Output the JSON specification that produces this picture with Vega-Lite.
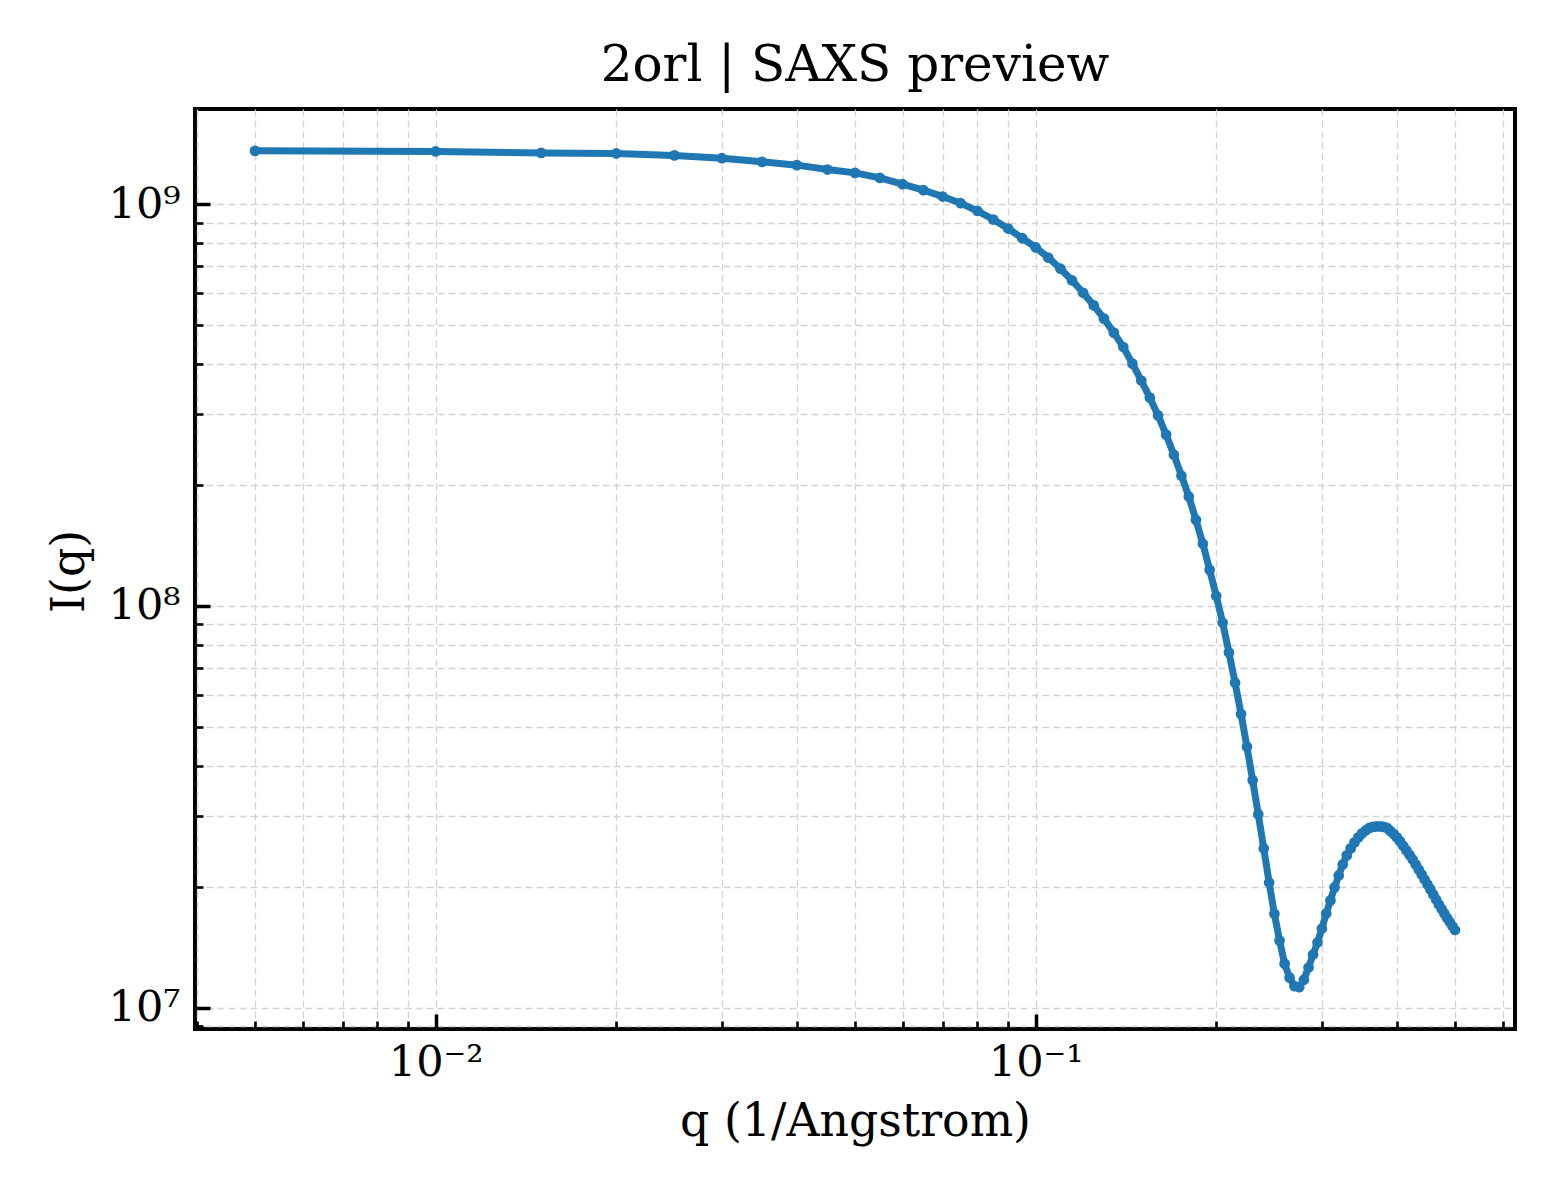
{
  "$schema": "https://vega.github.io/schema/vega-lite/v6.json",
  "width": 1320,
  "height": 920,
  "autosize": {"type": "none"},
  "padding": {"left": 195, "top": 109, "right": 45, "bottom": 171},
  "background": "white",
  "title": {
    "text": "2orl | SAXS preview",
    "font": "DejaVu Serif",
    "fontSize": 50,
    "fontWeight": "normal",
    "color": "black",
    "anchor": "middle",
    "baseline": "alphabetic",
    "offset": -22
  },
  "data": {
    "values": [
      {"q": 0.005, "I": 1.358e9}, {"q": 0.010, "I": 1.353e9}, {"q": 0.015, "I": 1.342e9}, {"q": 0.020, "I": 1.338e9},
      {"q": 0.025, "I": 1.323e9}, {"q": 0.030, "I": 1.302e9}, {"q": 0.035, "I": 1.275e9}, {"q": 0.040, "I": 1.251e9},
      {"q": 0.045, "I": 1.220e9}, {"q": 0.050, "I": 1.197e9}, {"q": 0.055, "I": 1.163e9}, {"q": 0.060, "I": 1.122e9},
      {"q": 0.065, "I": 1.084e9}, {"q": 0.070, "I": 1.045e9}, {"q": 0.075, "I": 1.006e9}, {"q": 0.080, "I": 9.62e8},
      {"q": 0.085, "I": 9.16e8}, {"q": 0.090, "I": 8.70e8}, {"q": 0.095, "I": 8.23e8}, {"q": 0.100, "I": 7.81e8},
      {"q": 0.105, "I": 7.36e8}, {"q": 0.110, "I": 6.91e8}, {"q": 0.115, "I": 6.46e8}, {"q": 0.120, "I": 6.02e8},
      {"q": 0.125, "I": 5.60e8}, {"q": 0.130, "I": 5.19e8}, {"q": 0.135, "I": 4.79e8}, {"q": 0.140, "I": 4.41e8},
      {"q": 0.145, "I": 4.01e8}, {"q": 0.150, "I": 3.64e8}, {"q": 0.155, "I": 3.30e8}, {"q": 0.160, "I": 2.98e8},
      {"q": 0.165, "I": 2.67e8}, {"q": 0.170, "I": 2.38e8}, {"q": 0.175, "I": 2.11e8}, {"q": 0.180, "I": 1.873e8},
      {"q": 0.185, "I": 1.638e8}, {"q": 0.190, "I": 1.428e8}, {"q": 0.195, "I": 1.230e8}, {"q": 0.200, "I": 1.059e8},
      {"q": 0.205, "I": 9.08e7}, {"q": 0.210, "I": 7.66e7}, {"q": 0.215, "I": 6.44e7}, {"q": 0.220, "I": 5.38e7},
      {"q": 0.225, "I": 4.46e7}, {"q": 0.230, "I": 3.68e7}, {"q": 0.235, "I": 3.03e7}, {"q": 0.240, "I": 2.49e7},
      {"q": 0.245, "I": 2.05e7}, {"q": 0.250, "I": 1.713e7}, {"q": 0.255, "I": 1.469e7}, {"q": 0.260, "I": 1.287e7},
      {"q": 0.265, "I": 1.188e7}, {"q": 0.270, "I": 1.131e7}, {"q": 0.275, "I": 1.125e7}, {"q": 0.280, "I": 1.174e7},
      {"q": 0.285, "I": 1.259e7}, {"q": 0.290, "I": 1.356e7}, {"q": 0.295, "I": 1.453e7}, {"q": 0.300, "I": 1.574e7},
      {"q": 0.305, "I": 1.716e7}, {"q": 0.310, "I": 1.849e7}, {"q": 0.315, "I": 1.993e7}, {"q": 0.320, "I": 2.134e7},
      {"q": 0.325, "I": 2.273e7}, {"q": 0.330, "I": 2.394e7}, {"q": 0.335, "I": 2.492e7}, {"q": 0.340, "I": 2.579e7},
      {"q": 0.345, "I": 2.654e7}, {"q": 0.350, "I": 2.716e7}, {"q": 0.355, "I": 2.763e7}, {"q": 0.360, "I": 2.803e7},
      {"q": 0.365, "I": 2.819e7}, {"q": 0.370, "I": 2.827e7}, {"q": 0.375, "I": 2.827e7}, {"q": 0.380, "I": 2.819e7},
      {"q": 0.385, "I": 2.803e7}, {"q": 0.390, "I": 2.755e7}, {"q": 0.395, "I": 2.708e7}, {"q": 0.400, "I": 2.654e7},
      {"q": 0.405, "I": 2.594e7}, {"q": 0.410, "I": 2.527e7}, {"q": 0.415, "I": 2.463e7}, {"q": 0.420, "I": 2.400e7},
      {"q": 0.425, "I": 2.339e7}, {"q": 0.430, "I": 2.273e7}, {"q": 0.435, "I": 2.208e7}, {"q": 0.440, "I": 2.146e7},
      {"q": 0.445, "I": 2.085e7}, {"q": 0.450, "I": 2.026e7}, {"q": 0.455, "I": 1.970e7}, {"q": 0.460, "I": 1.914e7},
      {"q": 0.465, "I": 1.859e7}, {"q": 0.470, "I": 1.807e7}, {"q": 0.475, "I": 1.760e7}, {"q": 0.480, "I": 1.716e7},
      {"q": 0.485, "I": 1.672e7}, {"q": 0.490, "I": 1.634e7}, {"q": 0.495, "I": 1.597e7}, {"q": 0.500, "I": 1.561e7}
    ]
  },
  "encoding": {
    "x": {
      "field": "q",
      "type": "quantitative",
      "scale": {"type": "log", "domain": [0.0039716, 0.62946], "nice": false},
      "axis": {
        "title": "q (1/Angstrom)",
        "titleX": 660,
        "titleY": 106,
        "titleBaseline": "alphabetic",
        "titleAlign": "center",
        "values": [0.004, 0.005, 0.006, 0.007, 0.008, 0.009, 0.01, 0.02, 0.03, 0.04, 0.05, 0.06, 0.07, 0.08, 0.09, 0.1, 0.2, 0.3, 0.4, 0.5, 0.6],
        "labelExpr": "datum.value == 0.01 ? '10⁻²' : datum.value == 0.1 ? '10⁻¹' : ''",
        "labelBaseline": "alphabetic",
        "labelPadding": 61,
        "tickSize": {"condition": {"test": "datum.value == 0.01 || datum.value == 0.1", "value": -15}, "value": -8},
        "tickWidth": {"condition": {"test": "datum.value == 0.01 || datum.value == 0.1", "value": 3.5}, "value": 2.6}
      }
    },
    "y": {
      "field": "I",
      "type": "quantitative",
      "scale": {"type": "log", "domain": [8.85e6, 1.726e9], "nice": false},
      "axis": {
        "title": "I(q)",
        "titleX": -112,
        "titleY": 462,
        "titleAngle": -90,
        "titleBaseline": "alphabetic",
        "titleAlign": "center",
        "values": [9e6, 1e7, 2e7, 3e7, 4e7, 5e7, 6e7, 7e7, 8e7, 9e7, 1e8, 2e8, 3e8, 4e8, 5e8, 6e8, 7e8, 8e8, 9e8, 1e9],
        "labelExpr": "datum.value == 1e7 ? '10⁷' : datum.value == 1e8 ? '10⁸' : datum.value == 1e9 ? '10⁹' : ''",
        "labelAlign": "right",
        "labelBaseline": "middle",
        "labelPadding": 30,
        "tickSize": {"condition": {"test": "datum.value == 1e7 || datum.value == 1e8 || datum.value == 1e9", "value": -15}, "value": -8},
        "tickWidth": {"condition": {"test": "datum.value == 1e7 || datum.value == 1e8 || datum.value == 1e9", "value": 3.5}, "value": 2.6}
      }
    }
  },
  "layer": [
    {
      "mark": {"type": "line", "color": "#1f77b4", "strokeWidth": 7}
    },
    {
      "mark": {"type": "point", "shape": "circle", "filled": true, "opacity": 1, "color": "#1f77b4", "size": 115}
    }
  ],
  "config": {
    "view": {"stroke": "black", "strokeWidth": 4},
    "axis": {
      "domain": false,
      "grid": true,
      "gridColor": "#d3d3d3",
      "gridDash": [7, 4],
      "gridWidth": 1.3,
      "tickColor": "black",
      "labelFont": "DejaVu Serif",
      "labelFontSize": 43,
      "labelColor": "black",
      "labelOverlap": false,
      "labelFlush": false,
      "labelBound": false,
      "titleFont": "DejaVu Serif",
      "titleFontSize": 45.8,
      "titleFontWeight": "normal",
      "titleColor": "black"
    }
  }
}
